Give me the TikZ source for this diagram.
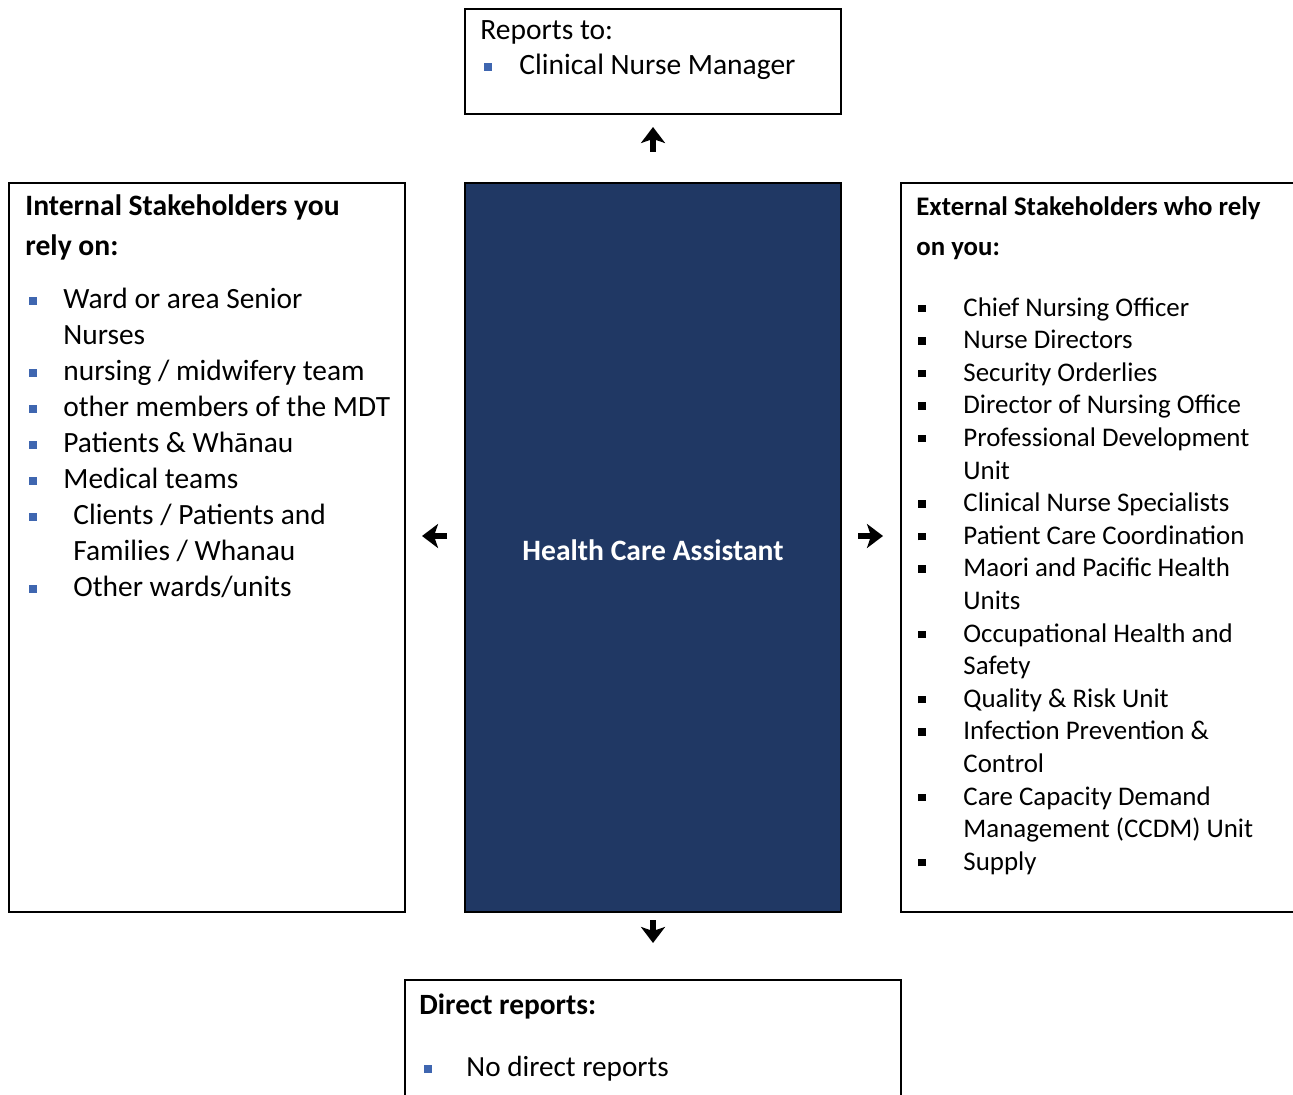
\documentclass[tikz,border=0pt]{standalone}
\usepackage{fontspec}
\setmainfont{Carlito}
\usetikzlibrary{arrows.meta,positioning}
\definecolor{hcanavy}{HTML}{203864}
\definecolor{bulblue}{HTML}{3F66B0}
\newcommand{\bsq}{\textcolor{bulblue}{\rule[1.8pt]{3.6pt}{3.8pt}}}
\newcommand{\ksq}{\rule[2pt]{3.7pt}{3.7pt}}
\newcommand{\bitem}[2][17pt]{\makebox[#1][l]{\bsq}#2}
\newcommand{\kitem}[1]{\makebox[22.5pt][l]{\ksq}#1}
\tikzset{
    panel/.style={rectangle,draw,line width=1pt,inner sep=0pt,outer sep=0pt},
    role/.style={panel,fill=hcanavy,text=white,font=\fontsize{14.8}{17}\selectfont\bfseries},
    blurb/.style={inner sep=0pt,align=left,anchor=north west},
    link/.style={-{Stealth[length=8pt,width=12pt,inset=2pt]},line width=2.8pt},
}

\begin{document}
\begin{tikzpicture}[x=0.5pt,y=-0.5pt]
    \useasboundingbox (0,0) rectangle (1293,1095);
    \node[panel,minimum width=188pt,minimum height=52.5pt] (rep) at (653,61.5) {};
    \node[panel,minimum width=198pt,minimum height=364.5pt] (int) at (207,547.5) {};
    \node[role,minimum width=188pt,minimum height=364.5pt,text height=12.5pt,text depth=0pt] (hca) at (653,547.5) {Health Care Assistant};
    \node[panel,minimum width=209.5pt,minimum height=364.5pt] (ext) at (1110.5,547.5) {};
    \node[panel,minimum width=248pt,minimum height=75pt] (dir) at (653,1055) {};

    % reports to
    \node[blurb,font=\fontsize{14.75}{17.5}\selectfont,below right=5.5pt and 7.5pt of rep.north west] (reptxt)
        {Reports to:\\\hspace*{2pt}\bitem[17.5pt]{Clinical Nurse Manager}};

    % internal stakeholders
    \node[blurb,font=\fontsize{14.8}{20}\selectfont\bfseries,below right=5.5pt and 8pt of int.north west] (inthead)
        {Internal Stakeholders you\\rely on:};
    \node[blurb,font=\fontsize{14.7}{18}\selectfont,below right=52.3pt and 10pt of int.north west] (intlist)
        {\bitem{Ward or area Senior}\\
         \hspace*{17pt}Nurses\\
         \bitem{nursing / midwifery team}\\
         \bitem{other members of the MDT}\\
         \bitem{Patients \& Whānau}\\
         \bitem{Medical teams}\\
         \bitem[22pt]{Clients / Patients and}\\
         \hspace*{22pt}Families / Whanau\\
         \bitem[22pt]{Other wards/units}};

    % external stakeholders
    \node[blurb,font=\fontsize{13.4}{20}\selectfont\bfseries,below right=6.8pt and 7.5pt of ext.north west] (exthead)
        {External Stakeholders who rely\\on you:};
    \node[blurb,font=\fontsize{13.45}{16.3}\selectfont,below right=57pt and 8.5pt of ext.north west] (extlist)
        {\kitem{Chief Nursing Officer}\\
         \kitem{Nurse Directors}\\
         \kitem{Security Orderlies}\\
         \kitem{Director of Nursing Office}\\
         \kitem{Professional Development}\\
         \hspace*{22.5pt}Unit\\
         \kitem{Clinical Nurse Specialists}\\
         \kitem{Patient Care Coordination}\\
         \kitem{Maori and Pacific Health}\\
         \hspace*{22.5pt}Units\\
         \kitem{Occupational Health and}\\
         \hspace*{22.5pt}Safety\\
         \kitem{Quality \& Risk Unit}\\
         \kitem{Infection Prevention \&}\\
         \hspace*{22.5pt}Control\\
         \kitem{Care Capacity Demand}\\
         \hspace*{22.5pt}Management (CCDM) Unit\\
         \kitem{Supply}};

    % direct reports
    \node[blurb,font=\fontsize{14.7}{17}\selectfont\bfseries,below right=6.5pt and 7pt of dir.north west] (dirhead)
        {Direct reports:};
    \node[blurb,font=\fontsize{14.6}{17}\selectfont,below right=38pt and 9.5pt of dir.north west] (dirlist)
        {\bitem[21pt]{No direct reports}};

    \draw[link,shorten <=15.5pt,shorten >=6.5pt] (hca.north) -- (rep.south);
    \draw[link,shorten <=4pt,shorten >=18.5pt] (hca.south) -- (dir.north);
    \draw[link,shorten <=9pt,shorten >=8.5pt] ([yshift=5.75pt]hca.west) -- ([yshift=5.75pt]int.east);
    \draw[link,shorten <=8.5pt,shorten >=9pt] ([yshift=5.75pt]hca.east) -- ([yshift=5.75pt]ext.west);
\end{tikzpicture}
\end{document}
